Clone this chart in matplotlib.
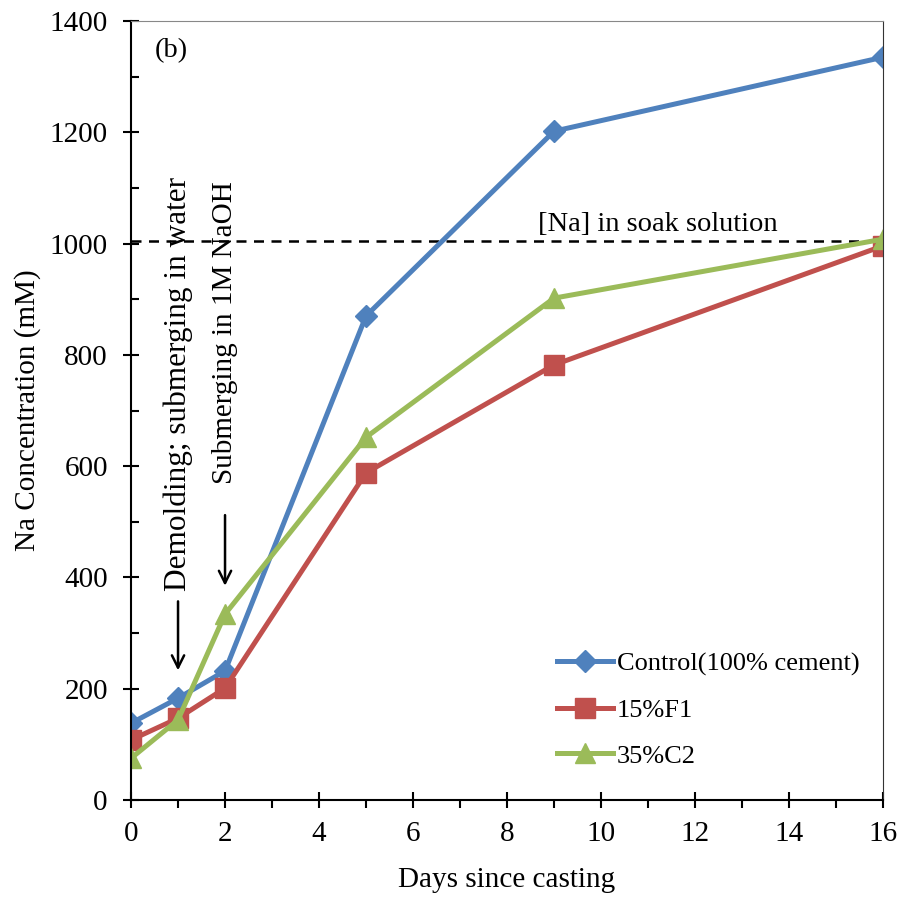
import matplotlib.pyplot as plt
from matplotlib.ticker import MultipleLocator

plt.rcParams['font.family'] = ['Liberation Serif', 'DejaVu Serif']

days = [0, 1, 2, 5, 9, 16]
control = [138, 183, 232, 870, 1202, 1335]
f1 = [108, 147, 201, 588, 782, 996]
c2 = [75, 144, 334, 652, 902, 1008]
soak_na = 1005

fig = plt.figure(figsize=(9.03, 8.99), dpi=100)
ax = fig.add_axes([0.1451, 0.1101, 0.8328, 0.8665])

ax.plot(days, control, color='#4F81BD', lw=3.6, marker='D', ms=11, label='Control(100% cement)')
ax.plot(days, f1, color='#C0504D', lw=3.6, marker='s', ms=14, label='15%F1')
ax.plot(days, c2, color='#9BBB59', lw=3.6, marker='^', ms=15, label='35%C2')
ax.axhline(soak_na, color='black', ls=(0, (4, 3)), lw=1.8, zorder=1)

ax.set_xlim(0, 16)
ax.set_ylim(0, 1400)
ax.xaxis.set_major_locator(MultipleLocator(2))
ax.xaxis.set_minor_locator(MultipleLocator(1))
ax.yaxis.set_major_locator(MultipleLocator(200))
ax.yaxis.set_minor_locator(MultipleLocator(100))
ax.tick_params(which='major', direction='inout', length=11.5, width=1.5, labelsize=21)
ax.tick_params(axis='x', which='minor', direction='out', length=6, width=1.5)
ax.tick_params(axis='y', which='minor', direction='in', length=6, width=1.5)
ax.tick_params(axis='x', which='major', pad=9)
ax.tick_params(axis='y', which='major', pad=11)

ax.spines['left'].set_linewidth(1.5)
ax.spines['bottom'].set_linewidth(1.5)
ax.spines['top'].set_color('#888888')
ax.spines['right'].set_color('#333333')
ax.spines['right'].set_linewidth(0.8)

ax.set_xlabel('Days since casting', fontsize=21, labelpad=15)
ax.set_ylabel('Na Concentration (mM)', fontsize=21, labelpad=6)

ax.text(0.5, 1370, '(b)', fontsize=20.5, va='top')
ax.text(11.2, 1012, '[Na] in soak solution', fontsize=20.5, ha='center', va='bottom')

ax.text(1.0, 375, 'Demolding; submerging in water', rotation=90, fontsize=22.5,
        ha='center', va='bottom')
ax.annotate('', xy=(1.0, 228), xytext=(1.0, 362),
            arrowprops=dict(arrowstyle='->', lw=1.8, color='black', mutation_scale=22))
ax.text(2.0, 1112, 'Submerging in 1M NaOH', rotation=90, fontsize=21,
        ha='center', va='top')
ax.annotate('', xy=(2.0, 380), xytext=(2.0, 517),
            arrowprops=dict(arrowstyle='->', lw=1.8, color='black', mutation_scale=22))

leg = ax.legend(loc='lower right', bbox_to_anchor=(1.0, 0.011), frameon=False, fontsize=19,
                handlelength=2.1, handletextpad=0.15, labelspacing=0.85)

fig.savefig('out.png', dpi=100)
